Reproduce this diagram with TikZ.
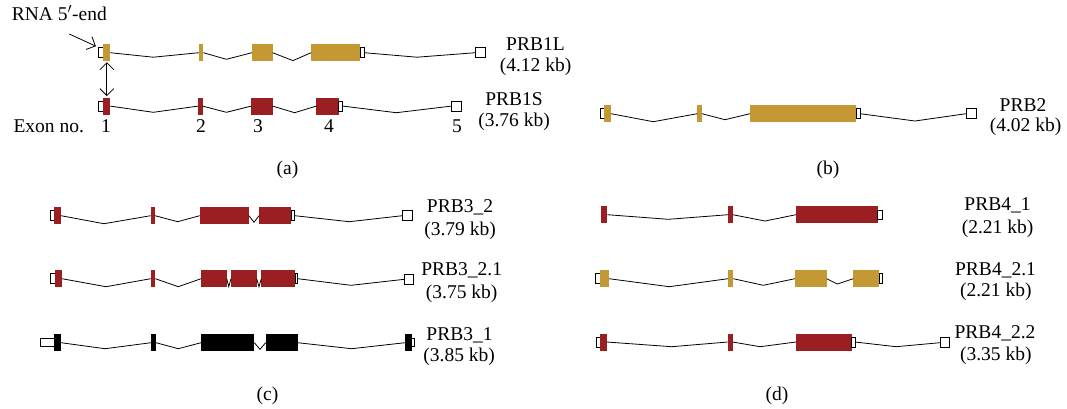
\documentclass[tikz,border=0pt]{standalone}
\usepackage{fontspec}
\setmainfont{Liberation Serif}
\usetikzlibrary{arrows.meta}
\definecolor{gold}{RGB}{196,152,50}
\definecolor{exred}{RGB}{155,31,34}
\newcommand\ex[5]{\node[#2,minimum width={#4-#3},anchor=west] (#1) at (#3,#5) {};}
\newcommand\ut[4]{\node[utr,minimum width={#3-#2},anchor=west] (#1) at (#2,#4) {};}
\begin{document}
\begin{tikzpicture}[x=1pt,y=-1pt,
  exon/.style={rectangle,inner sep=0pt,outer sep=0pt,minimum height=17pt},
  exg/.style={exon,fill=gold},
  exr/.style={exon,fill=exred},
  exk/.style={exon,fill=black},
  utr/.style={rectangle,draw=black,fill=white,line width=0.9pt,inner sep=0pt,outer sep=0pt,minimum height=10pt},
  utrs/.style={utr,minimum height=8pt},
  intr/.style={line width=0.8pt},
  arr/.style={line width=0.8pt,-{Straight Barb[length=7pt,width=14pt]}},
  darr/.style={line width=0.8pt,{Straight Barb[length=7pt,width=14pt]}-{Straight Barb[length=7pt,width=14pt]}},
  lab/.style={font=\fontsize{19.5}{22}\selectfont,anchor=base,inner sep=0pt}]
\useasboundingbox (0,0) rectangle (1067,408);

% ---------- (a) PRB1L ----------
\ut{La}{98.9}{103.4}{52.7}
\ex{L1}{exg}{103.4}{110.3}{52.7}
\ex{L2}{exg}{198.8}{203.3}{52.7}
\ex{L3}{exg}{251.9}{272.6}{52.7}
\ex{L4}{exg}{311.2}{360.1}{52.7}
\ut{Lb}{360.1}{364.2}{52.7}
\ut{L5}{475.5}{485.9}{52.7}
\draw[intr] (L1.east) -- (153.3,57.2) -- (L2.west);
\draw[intr] (L2.east) -- (226.4,59.3) -- (L3.west);
\draw[intr] (L3.east) -- (292.9,60.6) -- (L4.west);
\draw[intr] (Lb.east) -- (417,57.2) -- (L5.west);

% ---------- (a) PRB1S ----------
\ut{Sa}{98.9}{103.4}{106.1}
\ex{S1}{exr}{103.4}{110.3}{106.1}
\ex{S2}{exr}{198.1}{202.6}{106.1}
\ex{S3}{exr}{251.2}{272.6}{106.1}
\ex{S4}{exr}{316.3}{338.7}{106.1}
\ut{Sb}{338.7}{342.9}{106.1}
\ut{S5}{451.4}{461.8}{106.1}
\draw[intr] (S1.east) -- (153.3,112.3) -- (S2.west);
\draw[intr] (S2.east) -- (226.4,112.3) -- (S3.west);
\draw[intr] (S3.east) -- (294.6,112.7) -- (S4.west);
\draw[intr] (Sb.east) -- (396.3,112.7) -- (S5.west);

\draw[darr] ([yshift=-1pt]L1.south) -- ([yshift=1.5pt]S1.north);
\node[lab,anchor=base west] (rna) at (11.7,20.7) {RNA 5$'$-end};
\coordinate (rs) at (69.3,34);
\draw[arr] (rs) -- ([xshift=-3pt,yshift=1.5pt]La.north west);

\node[lab,anchor=base west] (exno) at (13.3,132.7) {Exon no.};
\node[lab] (n1) at (106,132.7) {1};
\node[lab] (n2) at (201,132.7) {2};
\node[lab] (n3) at (258,132.7) {3};
\node[lab] (n4) at (329,132.7) {4};
\node[lab] (n5) at (457,132.7) {5};
\node[lab] (tL) at (535.5,50) {PRB1L};
\node[lab] (kL) at (535.5,71.5) {(4.12 kb)};
\node[lab] (tS) at (514,105) {PRB1S};
\node[lab] (kS) at (514,126.7) {(3.76 kb)};
\node[lab] (capa) at (287.5,174.5) {(a)};

% ---------- (b) PRB2 ----------
\ut{Ba}{600.7}{604}{113.7}
\ex{B1}{exg}{604}{611}{113.7}
\ex{B2}{exg}{697.3}{702}{113.7}
\ex{B3}{exg}{750}{856}{113.7}
\ut{Bb}{856}{860}{113.7}
\ut{B5}{966}{976.7}{113.7}
\draw[intr] (B1.east) -- (653.3,121.7) -- (B2.west);
\draw[intr] (B2.east) -- (725,119.7) -- (B3.west);
\draw[intr] (Bb.east) -- (915,121) -- (B5.west);
\node[lab] (tB) at (1023,111.7) {PRB2};
\node[lab] (kB) at (1025.5,131.7) {(4.02 kb)};
\node[lab] (capb) at (828,174.5) {(b)};

% ---------- (c) PRB3_2 ----------
\ut{Ca}{50.7}{54}{215.7}
\ex{C1}{exr}{54}{61}{215.7}
\ex{C2}{exr}{150.7}{155}{215.7}
\ex{C3}{exr}{199.7}{249}{215.7}
\ex{C4}{exr}{259}{291.3}{215.7}
\ut{Cb}{291.3}{294.7}{215.7}
\ut{C5}{402.3}{412.7}{215.7}
\draw[intr] (C1.east) -- (104,223.7) -- (C2.west);
\draw[intr] (C2.east) -- (177.7,221.7) -- (C3.west);
\draw[intr] (C3.east) -- (254,222.3) -- (C4.west);
\draw[intr] (Cb.east) -- (349.3,221.7) -- (C5.west);
\node[lab] (tC) at (460,212.7) {PRB3\_2};
\node[lab] (kC) at (460,235) {(3.79 kb)};

% ---------- (c) PRB3_2.1 ----------
\ut{Da}{50.7}{55}{278.7}
\ex{D1}{exr}{55}{62}{278.7}
\ex{D2}{exr}{150.7}{155.3}{278.7}
\ex{D3}{exr}{201}{226.7}{278.7}
\ex{D4}{exr}{231}{256.7}{278.7}
\ex{D5}{exr}{261.3}{295}{278.7}
\ut{Db}{295}{297.7}{278.7}
\ut{D6}{404.3}{413.3}{279.3}
\draw[intr] (D1.east) -- (106,286.7) -- (D2.west);
\draw[intr] (D2.east) -- (178.3,286.7) -- (D3.west);
\draw[intr] (D3.east) -- (228.8,286.7) -- (D4.west);
\draw[intr] (D4.east) -- (259,286.7) -- (D5.west);
\draw[intr] (Db.east) -- (351,285.3) -- (D6.west);
\node[lab] (tD) at (461.7,275) {PRB3\_2.1};
\node[lab] (kD) at (461.7,298.3) {(3.75 kb)};

% ---------- (c) PRB3_1 ----------
\node[utrs,minimum width=14.3,anchor=west] (Ea) at (40,342.7) {};
\ex{E1}{exk}{54.3}{61}{342.7}
\ex{E2}{exk}{151}{156}{342.7}
\ex{E3}{exk}{201}{254.3}{342.7}
\ex{E4}{exk}{265.7}{297.7}{342.7}
\node[utrs,minimum width=2.6,anchor=west] (Eb) at (411.5,342.7) {};
\ex{E5}{exk}{405}{411.7}{342.7}
\draw[intr] (E1.east) -- (105,348.7) -- (E2.west);
\draw[intr] (E2.east) -- (178.3,348.7) -- (E3.west);
\draw[intr] (E3.east) -- (260,349.3) -- (E4.west);
\draw[intr] (E4.east) -- (351.7,348.7) -- (E5.west);
\node[lab] (tE) at (459.5,340) {PRB3\_1};
\node[lab] (kE) at (459.2,361.7) {(3.85 kb)};
\node[lab] (capc) at (267.5,400) {(c)};

% ---------- (d) PRB4_1 ----------
\ex{F1}{exr}{600.7}{607.3}{214.7}
\ex{F2}{exr}{728.3}{732.7}{214.7}
\ex{F3}{exr}{796}{877.7}{214.7}
\node[utr,minimum height=9pt,minimum width=4.3,anchor=west] (Fb) at (877.7,215) {};
\draw[intr] (F1.east) -- (668.3,219.3) -- (F2.west);
\draw[intr] (F2.east) -- (765,221) -- (F3.west);
\node[lab] (tF) at (997.5,210) {PRB4\_1};
\node[lab] (kF) at (997.5,233.3) {(2.21 kb)};

% ---------- (d) PRB4_2.1 ----------
\ut{Ga}{595}{600}{278.7}
\ex{G1}{exg}{600}{609}{278.7}
\ex{G2}{exg}{728}{733.3}{278.7}
\ex{G3}{exg}{795}{826.7}{278.7}
\ex{G4}{exg}{853.3}{879.3}{278.7}
\ut{Gb}{879.3}{882}{278.7}
\draw[intr] (G1.east) -- (669.3,286.7) -- (G2.west);
\draw[intr] (G2.east) -- (763.3,285.3) -- (G3.west);
\draw[intr] (G3.east) -- (837.3,284) -- (G4.west);
\node[lab] (tG) at (995.5,275) {PRB4\_2.1};
\node[lab] (kG) at (995.8,296.7) {(2.21 kb)};

% ---------- (d) PRB4_2.2 ----------
\ut{Ha}{596.7}{600}{342}
\ex{H1}{exr}{600}{606.7}{342}
\ex{H2}{exr}{727.7}{732.7}{342}
\ex{H3}{exr}{796}{851.7}{342}
\ut{Hb}{851.7}{855}{342}
\ut{H5}{940}{949}{342.7}
\draw[intr] (H1.east) -- (671.7,346.7) -- (H2.west);
\draw[intr] (H2.east) -- (760,346.7) -- (H3.west);
\draw[intr] (Hb.east) -- (896,346.7) -- (H5.west);
\node[lab] (tH) at (995,338.3) {PRB4\_2.2};
\node[lab] (kH) at (995.8,360) {(3.35 kb)};
\node[lab] (capd) at (777,400) {(d)};
\end{tikzpicture}
\end{document}
